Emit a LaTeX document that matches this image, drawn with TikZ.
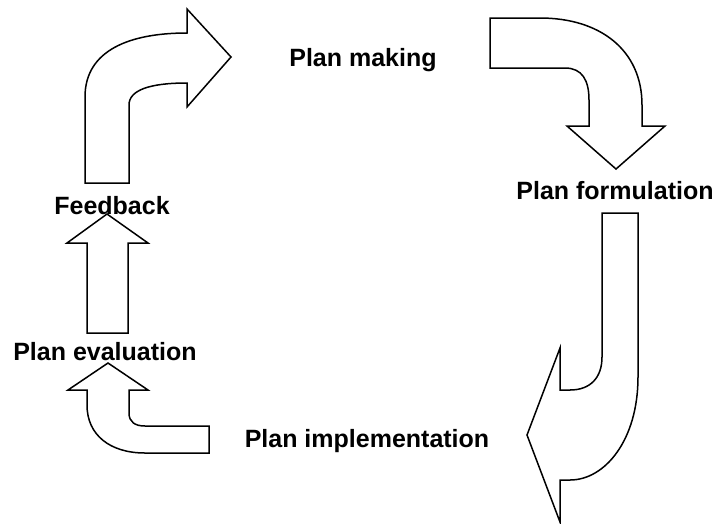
\documentclass[tikz,border=0pt]{standalone}
\usepackage{fontspec}
\setmainfont{Liberation Sans}
\usepackage{tikz}

\begin{document}
\begin{tikzpicture}
        [ x=1pt, y=-1pt
        , lbl/.style={font=\fontsize{25}{30}\selectfont\bfseries, anchor=base, inner sep=0pt}
        , blk/.style={draw, line width=1.5pt, fill=white, line join=miter}
        ]
        \useasboundingbox (0,0) rectangle (717,523);

        % feedback -> plan making
        \draw[blk] (85,183) -- (85,97) .. controls (85,50) and (130,33) .. (187,33)
            -- (187,9) -- (231,57) -- (187,107) -- (187,83)
            .. controls (150,83) and (129,90) .. (129,105) -- (129,183) -- cycle;

        % plan making -> plan formulation
        \draw[blk] (490,18) -- (540,18) .. controls (600,18) and (642,50) .. (642,105)
            -- (642,126) -- (665,126) -- (616,169) -- (567,126) -- (589,126)
            -- (589,100) .. controls (589,80) and (582,68) .. (565,68) -- (490,68) -- cycle;

        % plan formulation -> plan implementation
        \draw[blk] (602,213) -- (638,213) -- (638,377)
            .. controls (638,440) and (605,480) .. (570,480) -- (560,480)
            -- (560,522) -- (527,435) -- (560,348) -- (560,390) -- (570,390)
            .. controls (590,390) and (602,378) .. (602,357) -- cycle;

        % plan implementation -> plan evaluation
        \draw[blk] (209,426) -- (209,453) -- (145,453)
            .. controls (110,453) and (87,435) .. (87,405) -- (87,390)
            -- (68,390) -- (108,363) -- (148,390) -- (129,390) -- (129,413)
            .. controls (129,422) and (135,426) .. (145,426) -- cycle;

        % plan evaluation -> feedback
        \draw[blk] (87,333) -- (87,243) -- (67,243) -- (107,214) -- (148,243)
            -- (128,243) -- (128,333) -- cycle;

        % labels
        \node (mk) [lbl] at (363,66)  {Plan making};
        \node (fm) [lbl] at (615,199) {Plan formulation};
        \node (im) [lbl] at (367,447) {Plan implementation};
        \node (ev) [lbl] at (105,360) {Plan evaluation};
        \node (fb) [lbl] at (112,214) {Feedback};
\end{tikzpicture}
\end{document}
